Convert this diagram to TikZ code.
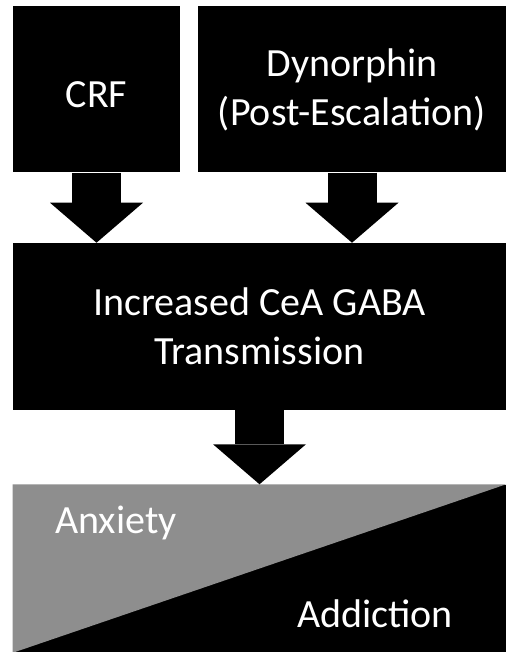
\documentclass[tikz,border=0pt]{standalone}
\usepackage{fontspec}
\setmainfont{Carlito}
\usetikzlibrary{arrows.meta, positioning}
\definecolor{anxgray}{HTML}{8E8E8E}

\begin{document}
\begin{tikzpicture}[x=0.75pt, y=0.75pt,
   box/.style={fill=black, text=white, align=center, inner sep=0pt,
               font=\fontsize{30}{36.75}\selectfont},
   tag/.style={text=white, inner sep=0pt, font=\fontsize{30}{36.75}\selectfont},
   blockarrow/.style={line width=36.75pt,
               -{Triangle[length=30pt, width=69.75pt, line width=0pt]}}]
   \useasboundingbox (0,0) rectangle (506,652);

   % central box
   \node[box, minimum width=369.75pt, minimum height=125.25pt] (gaba) at (259.5,325.5)
        {Increased CeA GABA\\Transmission};

   % inputs
   \node[box, minimum width=125.25pt, minimum height=124.5pt, text height=27.6pt]
        (crf) [above=52.5pt of gaba.north west, anchor=south west] {CRF};
   \node[box, minimum width=231pt, minimum height=124.5pt]
        (dyn) [above=52.5pt of gaba.north east, anchor=south east] {Dynorphin\\(Post-Escalation)};

   % outcome box
   \node[box, minimum width=369.75pt, minimum height=126pt] (out) [below=55.5pt of gaba] {};
   \fill[anxgray] (out.north west) -- (out.north east) -- (out.south west) -- cycle;
   \node[tag, anchor=base west] (anx) at ([xshift=31.5pt, yshift=-36.75pt]out.north west) {Anxiety};
   \node[tag, anchor=base east] (add) at ([xshift=-39.75pt, yshift=18.75pt]out.south east) {Addiction};

   % block arrows
   \path[blockarrow]
   (crf.south) edge (crf.south |- gaba.north)
   (dyn.south) edge (dyn.south |- gaba.north)
   (gaba.south) edge (out.north);
\end{tikzpicture}
\end{document}
